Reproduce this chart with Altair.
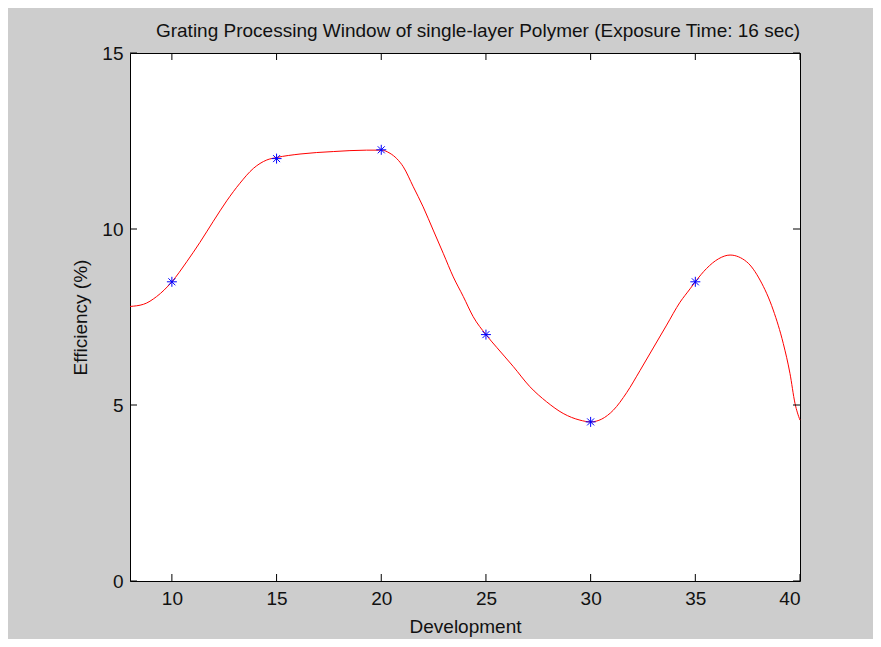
import altair as alt
import pandas as pd

# measured data points (blue asterisks)
dev_pts = [10, 15, 20, 25, 30, 35]
eff_pts = [8.5, 12.0, 12.25, 7.0, 4.52, 8.5]

# smooth fitted curve
curve_x = [8, 8.64, 9.27, 10, 10.71, 11.34, 11.98, 12.62, 13.25, 13.89,
           14.53, 15, 16.12, 17.71, 19.3, 20, 20.42, 20.74, 21.05, 21.53,
           22.0, 22.48, 22.96, 23.44, 23.92, 24.39, 25, 25.51, 26.31, 27.1,
           27.9, 28.69, 29.49, 30, 30.53, 31.08, 31.72, 32.36, 32.99, 33.63,
           34.27, 34.75, 35, 35.54, 36.1, 36.66, 37.45, 38.09, 38.72, 39.2,
           39.52, 39.76, 40]
curve_y = [7.8, 7.86, 8.08, 8.5, 9.07, 9.62, 10.22, 10.8, 11.3, 11.72,
           11.96, 12.03, 12.13, 12.2, 12.24, 12.24, 12.15, 12.0, 11.77, 11.2,
           10.63, 9.97, 9.31, 8.64, 8.08, 7.51, 7.0, 6.64, 6.09, 5.52,
           5.09, 4.76, 4.57, 4.52, 4.6, 4.85, 5.35, 5.98, 6.62, 7.27,
           7.92, 8.3, 8.5, 8.88, 9.15, 9.26, 9.07, 8.55, 7.7, 6.75,
           5.9, 5.05, 4.57]

x_ticks = [10, 15, 20, 25, 30, 35, 40]
y_ticks = [0, 5, 10, 15]

W, H = 670, 528
FONT = "Liberation Sans"

curve_df = pd.DataFrame({"x": curve_x, "y": curve_y})
pts_df = pd.DataFrame({"x": dev_pts, "y": eff_pts})
xt_df = pd.DataFrame({"x": x_ticks})
yt_df = pd.DataFrame({"y": y_ticks})

xs = alt.Scale(domain=[8, 40], nice=False, zero=False)
ys = alt.Scale(domain=[0, 15], nice=False, zero=False)

x_axis = alt.Axis(values=x_ticks, title="Development", titleY=45, titleBaseline="middle",
                  labelPadding=8)
y_axis = alt.Axis(values=y_ticks, title="Efficiency (%)", titleX=-50, titleY=H / 2,
                  titleAngle=-90, titleBaseline="middle", titleAlign="center", labelPadding=7)

X = lambda: alt.X("x:Q", scale=xs, axis=x_axis, title="Development")
Y = lambda: alt.Y("y:Q", scale=ys, axis=y_axis, title="Efficiency (%)")

line = alt.Chart(curve_df).mark_line(color="#ff0000", strokeWidth=1, interpolate="monotone").encode(
    x=X(), y=Y(),
)

star = "M-1,0L1,0M0,-1L0,1M-0.7,-0.7L0.7,0.7M-0.7,0.7L0.7,-0.7"
points = alt.Chart(pts_df).mark_point(shape=star, filled=False, color="#0000ff",
                                      size=100, strokeWidth=1, opacity=1).encode(
    x=X(), y=Y(),
)

TL = 7
xt_bottom = alt.Chart(xt_df).mark_rule(color="black", strokeWidth=1).encode(
    x=X(), y=alt.value(H), y2=alt.value(H - TL))
xt_top = alt.Chart(xt_df).mark_rule(color="black", strokeWidth=1).encode(
    x=X(), y=alt.value(0), y2=alt.value(TL))
yt_left = alt.Chart(yt_df).mark_rule(color="black", strokeWidth=1).encode(
    y=Y(), x=alt.value(0), x2=alt.value(TL))
yt_right = alt.Chart(yt_df).mark_rule(color="black", strokeWidth=1).encode(
    y=Y(), x=alt.value(W), x2=alt.value(W - TL))

chart = alt.layer(line, xt_bottom, xt_top, yt_left, yt_right, points).properties(
    width=W, height=H,
    title=alt.TitleParams(
        "Grating Processing Window of single-layer Polymer (Exposure Time: 16 sec)",
        font=FONT, fontSize=19, fontWeight="normal", color="#111111",
        anchor="middle", baseline="alphabetic", offset=4, dx=13, dy=16,
    ),
    autosize=alt.AutoSizeParams(type="none"),
    padding={"left": 122, "top": 45, "right": 73, "bottom": 58},
    background="#cdcdcd",
).configure_view(
    stroke="black", strokeWidth=1, fill="white"
).configure_axis(
    domain=False, ticks=False, grid=False,
    labelFont=FONT, labelFontSize=19, labelColor="#111111",
    titleFont=FONT, titleFontSize=19, titleFontWeight="normal", titleColor="#111111",
)

chart.save("out.html", embed_options={"renderer": "svg", "actions": False})
